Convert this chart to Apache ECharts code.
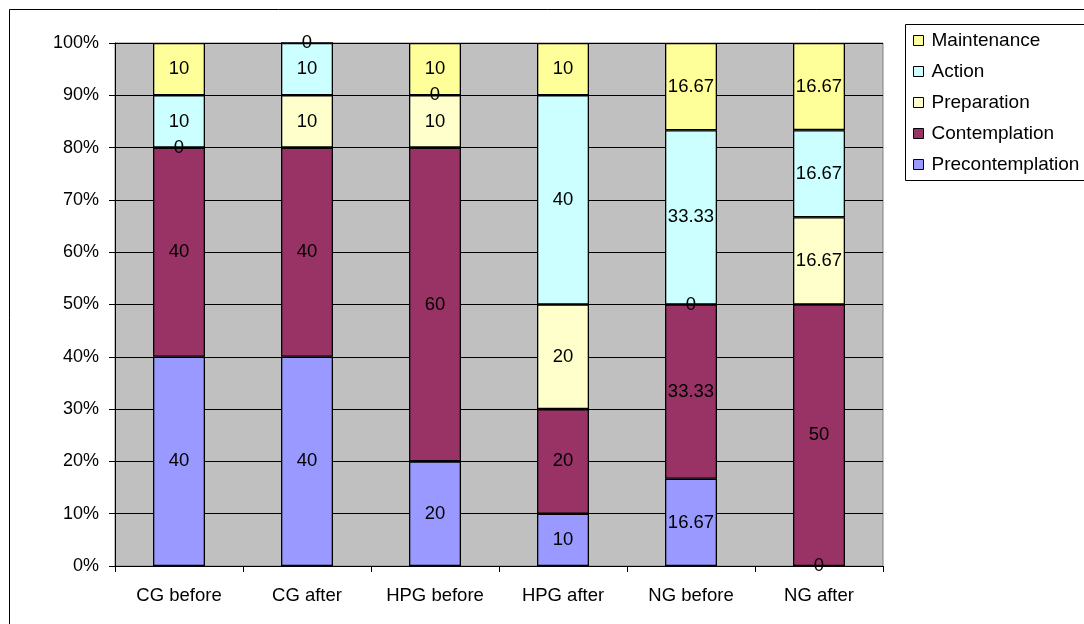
<!DOCTYPE html>
<html>
<head>
<meta charset="utf-8">
<script src="https://cdn.jsdelivr.net/npm/echarts@6/dist/echarts.min.js"></script>
<style>
html,body{margin:0;padding:0;background:#fff;}
#chart{width:1084px;height:624px;}
</style>
</head>
<body>
<div id="chart"></div>
<script>
var categories = ['CG before', 'CG after', 'HPG before', 'HPG after', 'NG before', 'NG after'];
var precontemplation = [40, 40, 20, 10, 16.67, 0];
var contemplation = [40, 40, 60, 20, 33.33, 50];
var preparation = [0, 10, 10, 20, 0, 16.67];
var action = [10, 10, 0, 40, 33.33, 16.67];
var maintenance = [10, 0, 10, 10, 16.67, 16.67];
var yTicks = [0, 10, 20, 30, 40, 50, 60, 70, 80, 90, 100];

var dom = document.getElementById('chart');
var myChart = echarts.init(dom);
var font = 'Liberation Sans, Arial, sans-serif';

function makeSeries(name, data, color) {
    return {
        name: name,
        type: 'bar',
        stack: 'total',
        barWidth: 52,
        data: data,
        itemStyle: {
            color: color,
            borderColor: '#000',
            borderWidth: 1.3
        },
        label: {
            show: true,
            position: 'inside',
            color: '#000',
            fontFamily: font,
            fontSize: 18.5,
            formatter: function (p) {
                return p.value;
            }
        }
    };
}

var option = {
    animation: false,
    backgroundColor: '#fff',
    graphic: [
        {
            type: 'rect',
            shape: {x: 9.5, y: 9.5, width: 1200, height: 800},
            style: {fill: 'none', stroke: '#000', lineWidth: 1},
            z: -1
        },
        {
            type: 'rect',
            shape: {x: 905.5, y: 24.5, width: 300, height: 156},
            style: {fill: '#fff', stroke: '#000', lineWidth: 1},
            z: 0
        }
    ],
    legend: {
        orient: 'vertical',
        left: 913,
        top: 31,
        padding: 0,
        itemWidth: 10,
        itemHeight: 10,
        itemGap: 12,
        icon: 'rect',
        data: ['Maintenance', 'Action', 'Preparation', 'Contemplation', 'Precontemplation'],
        textStyle: {
            color: '#000',
            fontFamily: font,
            fontSize: 19,
            padding: [0, 0, 0, 3]
        },
        itemStyle: {
            borderColor: '#000',
            borderWidth: 1
        },
        z: 5
    },
    grid: {
        left: 115,
        top: 43,
        right: 201,
        bottom: 58,
        show: true,
        backgroundColor: '#C0C0C0',
        borderColor: '#808080',
        borderWidth: 1
    },
    xAxis: {
        type: 'category',
        data: categories,
        axisLine: {lineStyle: {color: '#000', width: 1}},
        axisTick: {show: true, length: 6, lineStyle: {color: '#000'}},
        axisLabel: {
            color: '#000',
            fontFamily: font,
            fontSize: 18.5,
            margin: 20
        }
    },
    yAxis: {
        type: 'value',
        min: yTicks[0],
        max: yTicks[yTicks.length - 1],
        interval: 10,
        axisLine: {show: true, lineStyle: {color: '#000', width: 1}},
        axisTick: {show: true, length: 6, lineStyle: {color: '#000'}},
        axisLabel: {
            color: '#000',
            fontFamily: font,
            fontSize: 18,
            margin: 16,
            formatter: '{value}%'
        },
        splitLine: {show: true, lineStyle: {color: '#000', width: 1}}
    },
    series: [
        makeSeries('Precontemplation', precontemplation, '#9999FF'),
        makeSeries('Contemplation', contemplation, '#993366'),
        makeSeries('Preparation', preparation, '#FFFFCC'),
        makeSeries('Action', action, '#CCFFFF'),
        makeSeries('Maintenance', maintenance, '#FFFF99')
    ]
};

myChart.setOption(option);
</script>
</body>
</html>
